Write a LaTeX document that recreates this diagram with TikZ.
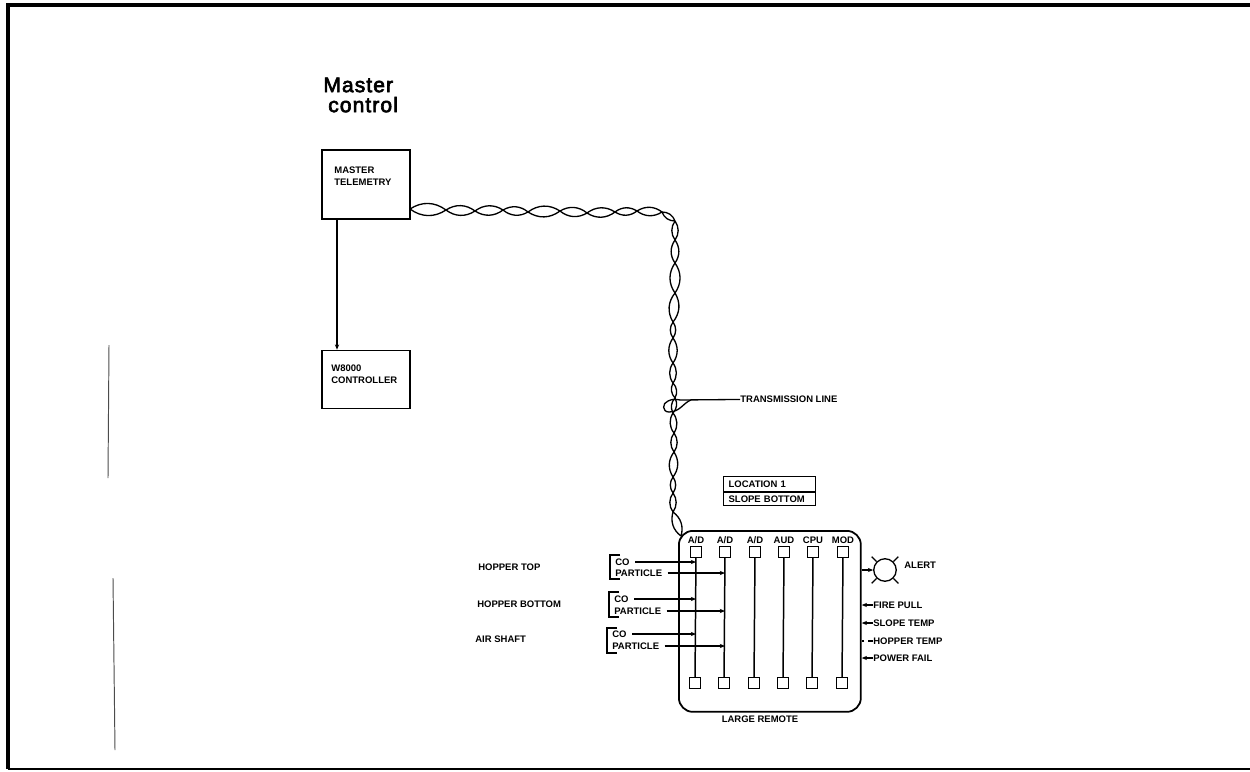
\documentclass[tikz,border=0pt]{standalone}
\usepackage{fontspec}
\setmainfont{Liberation Sans}
\newfontfamily\titlefont[LetterSpace=5,FakeBold=3]{Liberation Sans}
\usetikzlibrary{arrows.meta,positioning,calc}
\tikzset{
  tag/.style={inner sep=0pt,font=\fontsize{5.4}{6.9}\selectfont\bfseries},
  unitbox/.style={draw,line width=1pt},
  port/.style={draw,line width=.8pt,minimum size=.21cm,inner sep=0pt},
  bus/.style={line width=.85pt},
  wire/.style={line width=.75pt},
  feed/.style={line width=.7pt,-{Stealth[length=3pt,width=2.4pt]}},
  weakfeed/.style={line width=.6pt,densely dashed},
  scanmark/.style={line width=.55pt,black!70}
}
\begin{document}
\begin{tikzpicture}[x=.02cm,y=-.02cm]
\useasboundingbox (0,0) rectangle (1250,771);
% page frame and scan marks
\draw[line width=2.2pt] (8,769) -- (8,5) -- (1250,5);
\draw[line width=1.3pt] (8,769) -- (1250,769);
\draw[scanmark] (109,345) -- (108,478);
\draw[scanmark] (113,578) -- (115,750);
% master side
\node[inner sep=0pt,anchor=west,align=left,font=\fontsize{12}{11.4}\titlefont] (title) at (323,95) {Master\\\hspace*{2.8pt}control};
\node[unitbox,anchor=north west,minimum width=1.76cm,minimum height=1.38cm] (master) at (321,149) {};
\node[unitbox,minimum width=1.76cm,minimum height=1.16cm,below=2.6cm of master] (ctrl) {};
\node[tag,anchor=west,align=left] (mastertxt) at (334,176) {MASTER\\TELEMETRY};
\node[tag,anchor=west,align=left] (ctrltxt) at (331,374) {W8000\\CONTROLLER};
\draw[feed,line width=.9pt] ($(master.south west)+(16,0)$) -- ($(ctrl.north west)+(16,0)$);
% remote
\node[draw,line width=1pt,rounded corners=.28cm,anchor=north west,minimum width=3.64cm,minimum height=3.62cm] (remote) at (678,530) {};
\node[tag,anchor=north] (remotetxt) at (760,716) {LARGE REMOTE};
\node[draw,line width=.7pt,anchor=north west,minimum width=1.84cm,minimum height=.3cm,inner xsep=.1cm,text width=1.64cm,inner ysep=0pt,font=\fontsize{5.4}{6.9}\selectfont\bfseries] (loc) at (723,476) {LOCATION 1};
\node[draw,line width=.7pt,minimum width=1.84cm,minimum height=.27cm,inner xsep=.1cm,text width=1.64cm,inner ysep=0pt,font=\fontsize{5.4}{6.9}\selectfont\bfseries,below=-.4pt of loc] (slope) {SLOPE BOTTOM};
% ports and buses
\foreach \i/\tx/\bx/\name in {1/696/695/A\slash D,2/725/724/A\slash D,3/755/754/A\slash D,4/784/783/AUD,5/813/812/CPU,6/843/842/MOD}{
  \node[port] (top\i) at (\tx,552) {};
  \node[port] (bot\i) at (\bx,683) {};
  \node[tag] (name\i) at (\tx,540) {\name};
  \draw[bus] (top\i) -- (bot\i);
}
% sensor inputs
\foreach \i/\tx/\cy/\py/\ya/\yb/\place/\lx/\ly in {1/615/562/573/555/579/HOPPER TOP/478/567,2/614/599/611/592/617/HOPPER BOTTOM/477/604,3/612/634/646/628/653/AIR SHAFT/475/639}{
  \node[tag,anchor=west] (co\i) at (\tx,\cy) {CO};
  \node[tag,anchor=west] (part\i) at (\tx,\py) {PARTICLE};
  \node[tag,anchor=west] (place\i) at (\lx,\ly) {\place};
  \draw[feed,shorten <=3pt] (co\i.east) -- (co\i.east -| top1);
  \draw[feed,shorten <=3pt] (part\i.east) -- (part\i.east -| top2);
  \draw[line width=.7pt] ($(co\i.west |- 0,\ya)+(5,0)$) -- ($(co\i.west |- 0,\ya)+(-5,0)$) -- ($(co\i.west |- 0,\yb)+(-5,0)$) -- ($(co\i.west |- 0,\yb)+(5,0)$);
}
% status inputs
\foreach \i/\y/\name/\how in {1/605/FIRE PULL/feed,2/623/SLOPE TEMP/feed,3/641/HOPPER TEMP/weakfeed,4/658/POWER FAIL/feed}{
  \node[tag,anchor=west] (stat\i) at (873,\y) {\name};
  \draw[\how] (stat\i.west) -- (stat\i.west -| remote.east);
}
% alert
\node[draw,circle,line width=.75pt,minimum size=.45cm,inner sep=0pt] (alarm) at (885,570) {};
\node[tag,anchor=west] (alerttxt) at (904,565) {ALERT};
\draw[feed,line width=.9pt] (alarm.west -| remote.east) -- (alarm.west);
\foreach \a in {45,135,225,315}
  \draw[line width=.7pt] (alarm.\a) -- ++(-\a:7);
% twisted pair
\foreach \i/\px/\py in {0/410/209,1/446/210,2/475/211,3/503/210,4/528/212,5/560/211,6/587/213,7/615/212,8/637/211,9/662/212,10/675/221,11/675/240,12/675/263,13/675/293,14/673/322,15/673/338,16/673/363,17/673/383,18/675/398,19/673/413,20/674/433,21/674/452,22/673/477,23/673/493,24/673/512,25/681/536}
  \coordinate (tw\i) at (\px,\py);
\foreach \a/\b in {0/1,1/2,2/3,3/4,4/5,5/6,6/7,7/8,8/9,9/10,10/11,11/12,12/13,13/14,14/15,15/16,16/17,17/18,18/19,19/20,20/21,21/22,22/23,23/24,24/25}{
  \draw[wire] (tw\a) to[bend left=35] (tw\b);
  \draw[wire] (tw\a) to[bend right=35] (tw\b);
}
% transmission line leader
\coordinate (tap) at (680,400);
\node[tag,anchor=west] (tline) at (740,399) {TRANSMISSION LINE};
\draw[wire] (tline) -- (tap);
\draw[wire] (691,400) .. controls (683,403) and (680,412) .. (669,412) .. controls (662,412) and (662,403) .. (668,401) .. controls (672,399) and (676,399) .. (tap);
\end{tikzpicture}
\end{document}
